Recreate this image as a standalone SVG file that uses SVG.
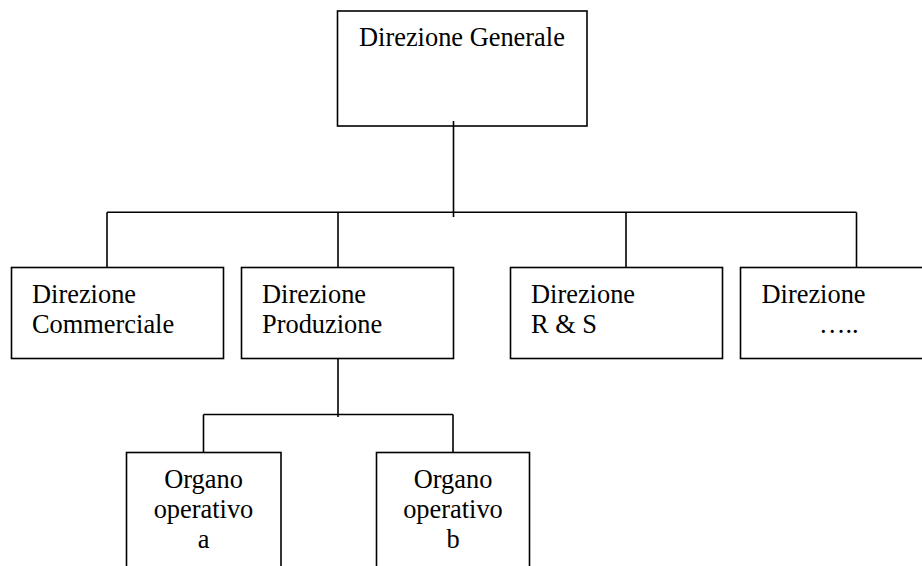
<svg xmlns="http://www.w3.org/2000/svg" width="922" height="566" viewBox="0 0 922 566">
  <style>
    .box { fill: #ffffff; stroke: #000000; stroke-width: 1.6; }
    .wire { fill: none; stroke: #000000; stroke-width: 1.6; }
    text { font-family: "Liberation Serif", "Times New Roman", serif; font-size: 26.4px; fill: #000000; }
    .c { text-anchor: middle; }
  </style>
  <rect width="922" height="566" fill="#ffffff"/>

  <g id="direzione-generale">
    <rect class="box" x="337.5" y="11" width="249.5" height="115"/>
    <text x="359" y="46">Direzione Generale</text>
  </g>

  <g id="direzione-commerciale">
    <rect class="box" x="11.5" y="267.5" width="212" height="91"/>
    <text x="32" y="303">Direzione</text>
    <text x="32" y="333">Commerciale</text>
  </g>

  <g id="direzione-produzione">
    <rect class="box" x="241.5" y="267.5" width="212" height="91"/>
    <text x="262" y="303">Direzione</text>
    <text x="262" y="333">Produzione</text>
  </g>

  <g id="direzione-rs">
    <rect class="box" x="510.5" y="267.5" width="212" height="91"/>
    <text x="531" y="303">Direzione</text>
    <text x="531" y="333">R &amp; S</text>
  </g>

  <g id="direzione-altro">
    <rect class="box" x="740.5" y="267.5" width="212" height="91"/>
    <text x="761.5" y="303">Direzione</text>
    <text x="819" y="333">…..</text>
  </g>

  <g id="organo-a">
    <rect class="box" x="126.5" y="452.5" width="154.5" height="130"/>
    <text class="c" x="203.5" y="488">Organo</text>
    <text class="c" x="203.5" y="518">operativo</text>
    <text class="c" x="203.5" y="548">a</text>
  </g>

  <g id="organo-b">
    <rect class="box" x="376.5" y="452.5" width="153" height="130"/>
    <text class="c" x="453" y="488">Organo</text>
    <text class="c" x="453" y="518">operativo</text>
    <text class="c" x="453" y="548">b</text>
  </g>

  <!-- connectors drawn last so the trunk shows over the top box edge -->
  <g id="connectors">
    <line class="wire" x1="453.5" y1="121" x2="453.5" y2="217"/>
    <line class="wire" x1="107" y1="212.3" x2="856.5" y2="212.3"/>
    <line class="wire" x1="107" y1="212.3" x2="107" y2="267.5"/>
    <line class="wire" x1="338" y1="212.3" x2="338" y2="267.5"/>
    <line class="wire" x1="626" y1="212.3" x2="626" y2="267.5"/>
    <line class="wire" x1="856.5" y1="212.3" x2="856.5" y2="267.5"/>
    <line class="wire" x1="338" y1="358.5" x2="338" y2="417"/>
    <line class="wire" x1="203.5" y1="414.5" x2="453" y2="414.5"/>
    <line class="wire" x1="203.5" y1="414.5" x2="203.5" y2="452.5"/>
    <line class="wire" x1="453" y1="414.5" x2="453" y2="452.5"/>
  </g>
</svg>
